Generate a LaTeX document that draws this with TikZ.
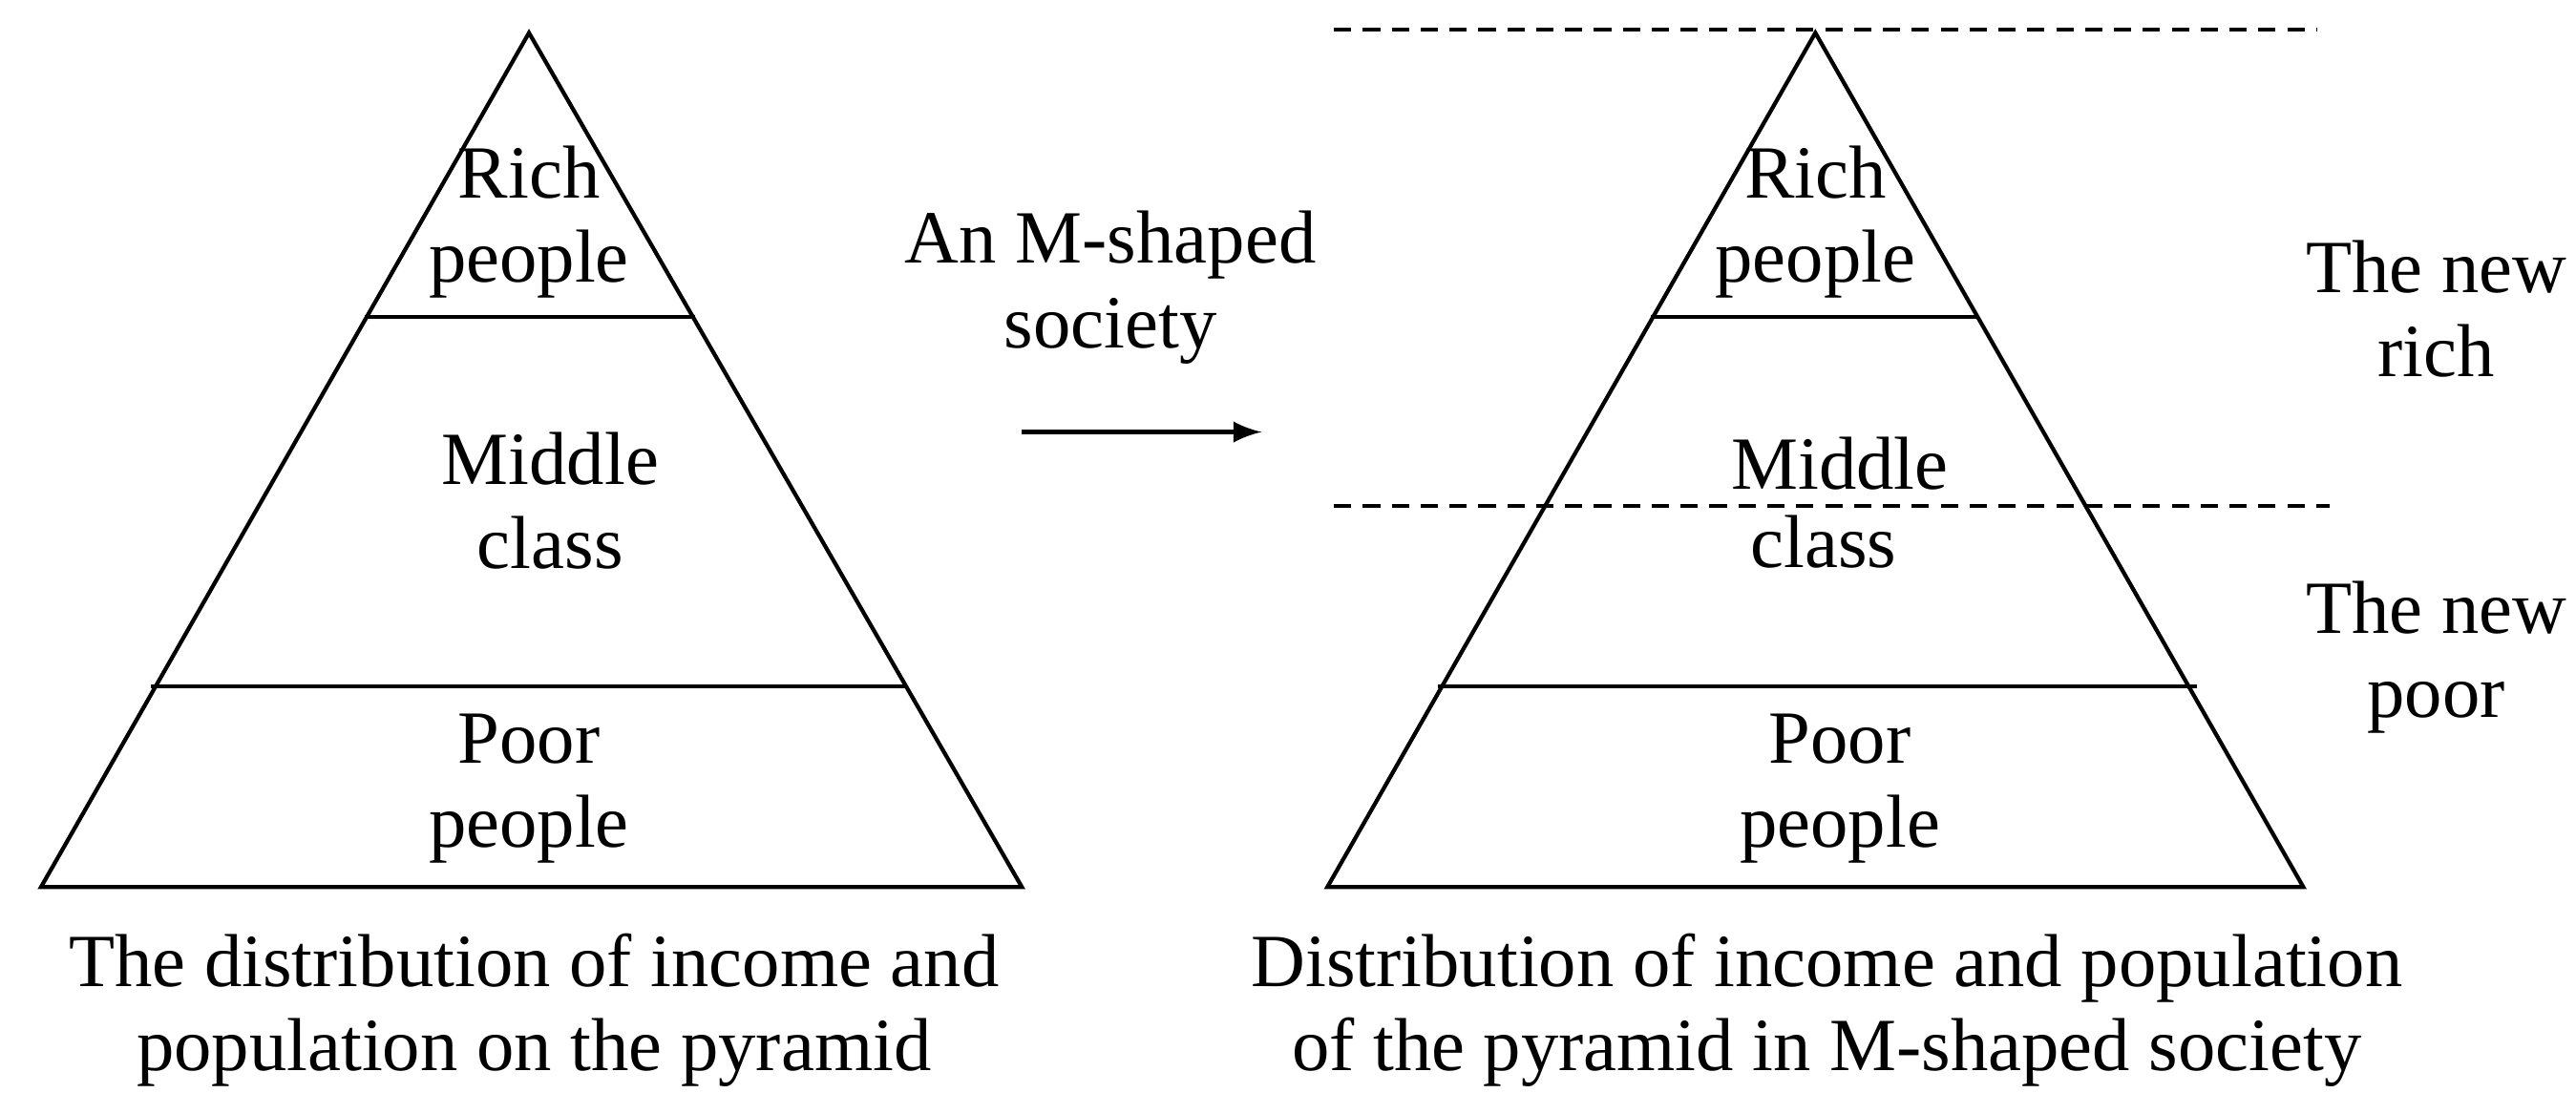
\documentclass[tikz,border=0pt]{standalone}
\usepackage{fontspec}
\setmainfont{Liberation Serif}
\begin{document}
\begin{tikzpicture}[x=0.01cm,y=-0.01cm,line width=0.7pt,
  lab/.style={align=center,font=\fontsize{13}{14.6}\selectfont,inner sep=0pt},
  dline/.style={dashed,dash pattern=on 3pt off 2pt}]
\useasboundingbox (0,0) rectangle (1568,678);
% left pyramid
\draw (322,20) coordinate (la) -- (622,540) coordinate (lr) -- (25,540) coordinate (ll) -- cycle;
\draw (222,193) -- (423,193);
\draw (92,418) -- (551,418);
\node[lab] (lrich) at (322,135) {Rich\\people};
\node[lab] (lmid) at (335,305) {Middle\\class};
\node[lab] (lpoor) at (322,480) {Poor\\people};
\node[lab] (lcap) at (325,615) {The distribution of income and\\population on the pyramid};
% arrow
\node[lab] (arrlab) at (676,175) {An M-shaped\\society};
\coordinate (as) at (622,263); \coordinate (ae) at (768,263);
\draw[-latex] (as) -- (ae);
% right pyramid
\draw (1105,20) coordinate (ra) -- (1402,540) -- (808,540) -- cycle;
\draw (1005,193) -- (1203,193);
\draw (875,418) -- (1337,418);
\draw[dline] (812,18) -- (1410,18);
\draw[dline] (812,308) -- (1418,308);
\node[lab] (rrich) at (1105,135) {Rich\\people};
\node[lab] (rmid) at (1120,282) {Middle};
\node[lab] (rcls) at (1110,330) {class};
\node[lab] (rpoor) at (1120,480) {Poor\\people};
\node[lab] (nrich) at (1483,188) {The new\\rich};
\node[lab] (npoor) at (1483,400) {The new\\poor};
\node[lab] (rcap) at (1112,615) {Distribution of income and population\\of the pyramid in M-shaped society};
\end{tikzpicture}
\end{document}
